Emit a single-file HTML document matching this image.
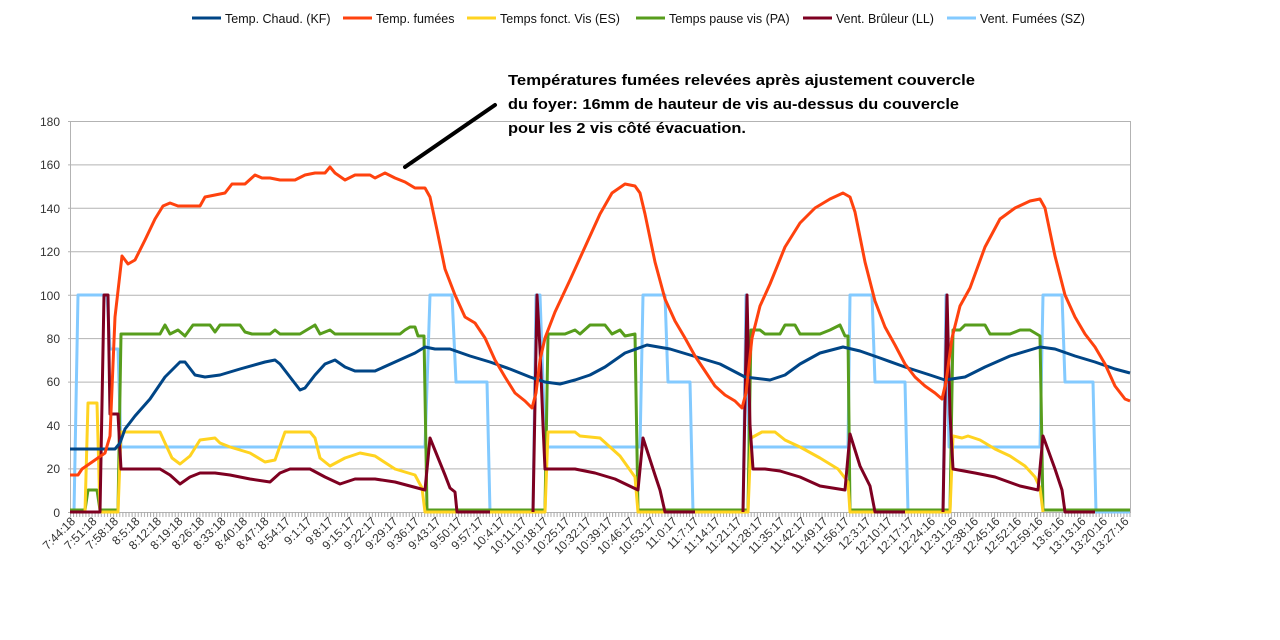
<!DOCTYPE html>
<html><head><meta charset="utf-8"><style>
html,body{margin:0;padding:0;background:#fff;}
svg{display:block;font-family:"Liberation Sans",sans-serif;}
</style></head><body>
<svg width="1280" height="640" viewBox="0 0 1280 640" xmlns="http://www.w3.org/2000/svg">
<defs>
<pattern id="tk" x="70" y="0" width="3.08" height="10" patternUnits="userSpaceOnUse"><line x1="0.5" y1="0" x2="0.5" y2="10" stroke="#aaa" stroke-width="1"/></pattern>
</defs>
<!-- grid -->
<g stroke="#b3b3b3" stroke-width="1">
<line x1="68" y1="121.5" x2="1131" y2="121.5"/>
<line x1="68" y1="164.9" x2="1131" y2="164.9"/>
<line x1="68" y1="208.3" x2="1131" y2="208.3"/>
<line x1="68" y1="251.8" x2="1131" y2="251.8"/>
<line x1="68" y1="295.2" x2="1131" y2="295.2"/>
<line x1="68" y1="338.6" x2="1131" y2="338.6"/>
<line x1="68" y1="382.1" x2="1131" y2="382.1"/>
<line x1="68" y1="425.5" x2="1131" y2="425.5"/>
<line x1="68" y1="468.9" x2="1131" y2="468.9"/>
<line x1="68" y1="512.5" x2="1131" y2="512.5"/>
<line x1="1130.5" y1="121" x2="1130.5" y2="512"/>
<line x1="70.5" y1="121" x2="70.5" y2="512"/>
</g>
<rect x="70" y="512" width="1061" height="5" fill="url(#tk)"/>
<g font-size="12" fill="#333" text-anchor="end">
<text x="60" y="126">180</text><text x="60" y="169">160</text><text x="60" y="213">140</text>
<text x="60" y="256">120</text><text x="60" y="300">100</text><text x="60" y="343">80</text>
<text x="60" y="386">60</text><text x="60" y="430">40</text><text x="60" y="473">20</text>
<text x="60" y="517">0</text>
</g>
<g transform="translate(0,0)" fill="none" stroke-width="3" stroke-linejoin="round">
<!-- light blue SZ -->
<polyline stroke="#83caff" points="70,512 74,512 78,295 107,295 110,349 118,349 121,447 425,447 430,295 452,295 456,382 487,382 490,512 533,512 536,295 540,295 543,382 545,447 640,447 643,295 665,295 668,382 690,382 693,512 743,512 746,295 749,447 848,447 850,295 872,295 875,382 905,382 908,512 943,512 946,295 949,447 1040,447 1043,295 1062,295 1065,382 1093,382 1096,512 1130,512"/>
<!-- green PA -->
<polyline stroke="#579d1c" points="70,510 85,510 88,490 97,490 100,510 118,510 121,334 160,334 165,325 170,334 178,330 185,336 193,325 210,325 215,332 220,325 240,325 245,332 252,334 270,334 275,330 280,334 300,334 315,325 320,334 330,330 335,334 350,334 400,334 405,330 410,327 415,327 418,336 424,336 427,510 545,510 548,334 565,334 575,330 580,334 590,325 605,325 612,334 620,330 625,336 635,334 638,510 748,510 751,330 760,330 765,334 780,334 785,325 795,325 800,334 820,334 830,330 840,325 845,336 848,336 850,510 950,510 953,330 960,330 965,325 985,325 990,334 1010,334 1020,330 1030,330 1040,336 1043,510 1130,510"/>
<!-- yellow ES -->
<polyline stroke="#ffd320" points="70,512 85,512 88,403 97,403 100,512 118,512 121,432 160,432 165,443 172,458 180,464 190,456 200,440 215,438 220,443 230,447 250,453 265,462 275,460 285,432 310,432 315,438 320,458 330,466 345,458 360,453 375,456 395,469 415,475 422,488 425,512 545,512 548,432 575,432 580,436 600,438 620,456 635,477 638,512 748,512 751,438 762,432 775,432 785,440 800,447 820,458 838,469 848,482 850,512 950,512 953,436 962,438 968,436 980,440 995,449 1010,456 1025,466 1035,477 1040,488 1043,512"/>
<!-- maroon LL -->
<polyline stroke="#7e0021" points="70,512 100,512 104,295 108,295 110,414 118,414 121,469 160,469 170,475 180,484 190,477 200,473 215,473 230,475 250,479 270,482 280,473 290,469 310,469 325,477 340,484 355,479 375,479 395,482 410,486 425,490 430,438 445,475 450,488 455,492 457,512 490,512"/>
<polyline stroke="#7e0021" points="533,512 537,295 540,349 543,425 545,469 575,469 595,473 615,479 638,490 643,438 655,475 660,490 665,512 695,512"/>
<polyline stroke="#7e0021" points="743,512 747,295 750,425 753,469 765,469 780,471 800,477 820,486 845,490 850,434 860,466 870,486 875,512 905,512"/>
<polyline stroke="#7e0021" points="943,512 947,295 950,414 953,469 975,473 995,477 1020,486 1038,490 1043,436 1055,469 1062,490 1065,512 1095,512"/>
<!-- dark blue KF -->
<polyline stroke="#004586" points="70,449 115,449 120,443 125,429 135,416 150,399 165,377 180,362 185,362 195,375 205,377 220,375 240,369 265,362 275,360 280,364 290,377 300,390 305,388 315,375 325,364 335,360 345,367 355,371 375,371 395,362 415,353 425,347 435,349 450,349 470,356 490,362 510,369 530,377 545,382 560,384 575,380 590,375 605,367 625,353 647,345 670,349 700,358 720,364 745,377 770,380 785,375 800,364 820,353 843,347 860,351 880,358 905,367 930,375 945,380 965,377 985,367 1010,356 1040,347 1055,349 1075,356 1095,362 1115,369 1130,373"/>
<!-- red fumees -->
<polyline stroke="#ff420e" points="70,475 78,475 82,469 95,460 105,453 110,436 115,317 122,256 128,264 135,260 145,240 155,219 163,206 170,203 178,206 200,206 205,197 215,195 225,193 232,184 245,184 255,175 262,178 270,178 280,180 295,180 305,175 315,173 325,173 330,167 335,173 345,180 355,175 370,175 375,178 385,173 395,178 405,182 415,188 425,188 430,197 437,230 445,269 455,295 465,317 475,323 485,338 495,360 505,377 515,393 525,401 532,408 536,393 540,360 545,338 555,312 570,280 585,247 600,214 612,193 625,184 635,186 640,193 645,214 655,262 665,299 675,321 685,338 695,356 705,371 715,386 725,395 735,401 742,408 746,393 752,338 760,306 770,284 785,247 800,223 815,208 830,199 843,193 850,197 855,212 865,262 875,301 885,327 895,345 905,364 915,377 925,386 935,393 942,399 946,382 952,338 960,306 970,288 985,247 1000,219 1015,208 1030,201 1040,199 1045,208 1055,256 1065,295 1075,317 1085,334 1095,347 1105,364 1115,386 1125,399 1130,401"/>
</g>
<!-- arrow -->
<line x1="405" y1="167" x2="495" y2="105" stroke="#000" stroke-width="4" stroke-linecap="round"/>
<g font-size="15" font-weight="bold" fill="#000">
<text x="508" y="85" textLength="467" lengthAdjust="spacingAndGlyphs">Températures fumées relevées après ajustement couvercle</text>
<text x="508" y="109" textLength="451" lengthAdjust="spacingAndGlyphs">du foyer: 16mm de hauteur de vis au-dessus du couvercle</text>
<text x="508" y="133" textLength="238" lengthAdjust="spacingAndGlyphs">pour les 2 vis côté évacuation.</text>
</g>
<!-- legend -->
<g stroke-width="3">
<line x1="192" y1="18" x2="221" y2="18" stroke="#004586"/>
<line x1="343" y1="18" x2="372" y2="18" stroke="#ff420e"/>
<line x1="467" y1="18" x2="496" y2="18" stroke="#ffd320"/>
<line x1="636" y1="18" x2="665" y2="18" stroke="#579d1c"/>
<line x1="803" y1="18" x2="832" y2="18" stroke="#7e0021"/>
<line x1="947" y1="18" x2="976" y2="18" stroke="#83caff"/>
</g>
<g font-size="12.5" fill="#111">
<text x="225" y="23">Temp. Chaud. (KF)</text>
<text x="376" y="23">Temp. fumées</text>
<text x="500" y="23">Temps fonct. Vis (ES)</text>
<text x="669" y="23">Temps pause vis (PA)</text>
<text x="836" y="23">Vent. Brûleur (LL)</text>
<text x="980" y="23">Vent. Fumées (SZ)</text>
</g>
<!-- x labels -->
<g font-size="12" fill="#333" text-anchor="end">
<text transform="translate(76,522) rotate(-45)">7:44:18</text>
<text transform="translate(97.5,522) rotate(-45)">7:51:18</text>
<text transform="translate(119,522) rotate(-45)">7:58:18</text>
<text transform="translate(140.5,522) rotate(-45)">8:5:18</text>
<text transform="translate(162,522) rotate(-45)">8:12:18</text>
<text transform="translate(183.5,522) rotate(-45)">8:19:18</text>
<text transform="translate(205,522) rotate(-45)">8:26:18</text>
<text transform="translate(226.5,522) rotate(-45)">8:33:18</text>
<text transform="translate(248,522) rotate(-45)">8:40:18</text>
<text transform="translate(269.5,522) rotate(-45)">8:47:18</text>
<text transform="translate(291,522) rotate(-45)">8:54:17</text>
<text transform="translate(312.5,522) rotate(-45)">9:1:17</text>
<text transform="translate(334,522) rotate(-45)">9:8:17</text>
<text transform="translate(355.5,522) rotate(-45)">9:15:17</text>
<text transform="translate(377,522) rotate(-45)">9:22:17</text>
<text transform="translate(398.5,522) rotate(-45)">9:29:17</text>
<text transform="translate(420,522) rotate(-45)">9:36:17</text>
<text transform="translate(441.5,522) rotate(-45)">9:43:17</text>
<text transform="translate(463,522) rotate(-45)">9:50:17</text>
<text transform="translate(484.5,522) rotate(-45)">9:57:17</text>
<text transform="translate(506,522) rotate(-45)">10:4:17</text>
<text transform="translate(527.5,522) rotate(-45)">10:11:17</text>
<text transform="translate(549,522) rotate(-45)">10:18:17</text>
<text transform="translate(570.5,522) rotate(-45)">10:25:17</text>
<text transform="translate(592,522) rotate(-45)">10:32:17</text>
<text transform="translate(613.5,522) rotate(-45)">10:39:17</text>
<text transform="translate(635,522) rotate(-45)">10:46:17</text>
<text transform="translate(656.5,522) rotate(-45)">10:53:17</text>
<text transform="translate(678,522) rotate(-45)">11:0:17</text>
<text transform="translate(699.5,522) rotate(-45)">11:7:17</text>
<text transform="translate(721,522) rotate(-45)">11:14:17</text>
<text transform="translate(742.5,522) rotate(-45)">11:21:17</text>
<text transform="translate(764,522) rotate(-45)">11:28:17</text>
<text transform="translate(785.5,522) rotate(-45)">11:35:17</text>
<text transform="translate(807,522) rotate(-45)">11:42:17</text>
<text transform="translate(828.5,522) rotate(-45)">11:49:17</text>
<text transform="translate(850,522) rotate(-45)">11:56:17</text>
<text transform="translate(871.5,522) rotate(-45)">12:3:17</text>
<text transform="translate(893,522) rotate(-45)">12:10:17</text>
<text transform="translate(914.5,522) rotate(-45)">12:17:17</text>
<text transform="translate(936,522) rotate(-45)">12:24:16</text>
<text transform="translate(957.5,522) rotate(-45)">12:31:16</text>
<text transform="translate(979,522) rotate(-45)">12:38:16</text>
<text transform="translate(1000.5,522) rotate(-45)">12:45:16</text>
<text transform="translate(1022,522) rotate(-45)">12:52:16</text>
<text transform="translate(1043.5,522) rotate(-45)">12:59:16</text>
<text transform="translate(1065,522) rotate(-45)">13:6:16</text>
<text transform="translate(1086.5,522) rotate(-45)">13:13:16</text>
<text transform="translate(1108,522) rotate(-45)">13:20:16</text>
<text transform="translate(1129.5,522) rotate(-45)">13:27:16</text>
</g>
</svg>
</body></html>
